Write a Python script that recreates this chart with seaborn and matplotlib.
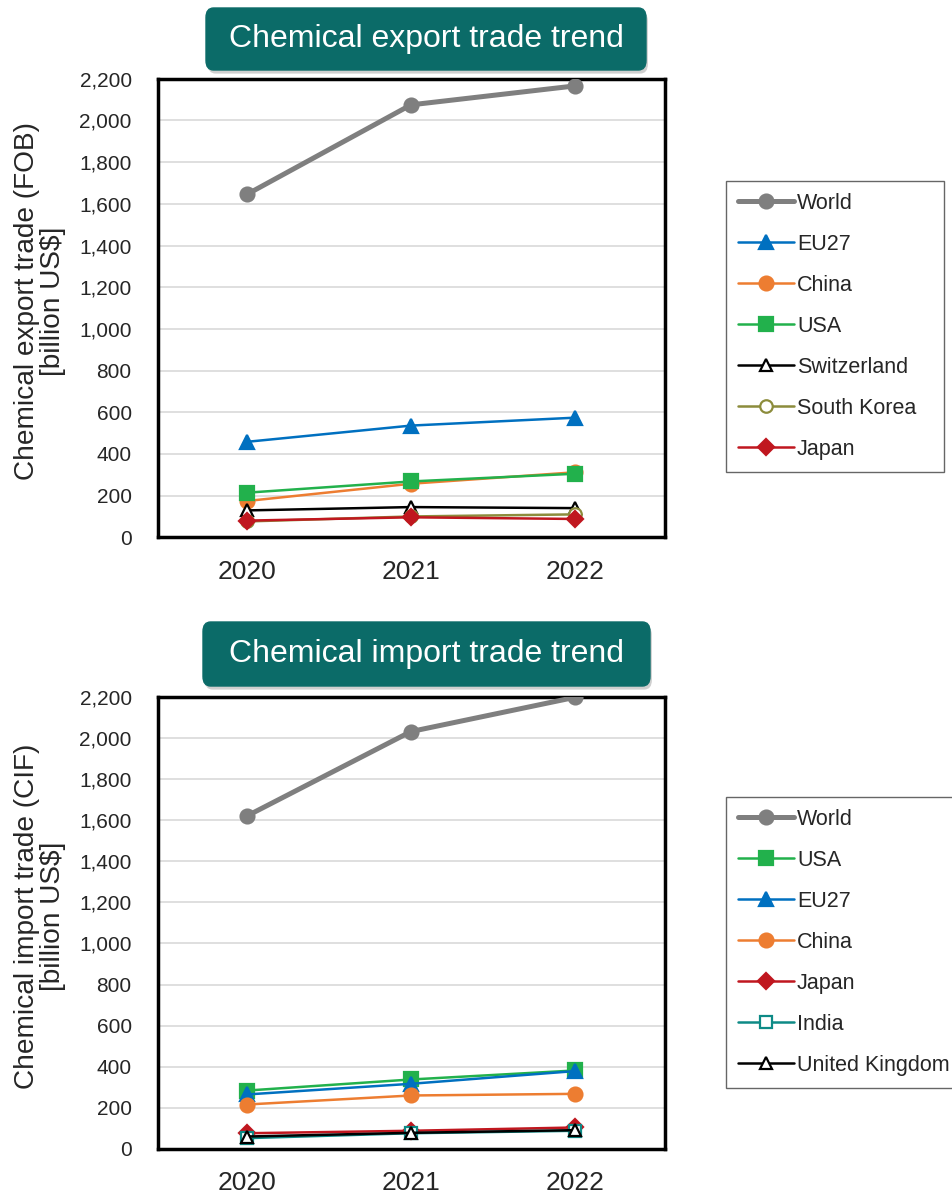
import numpy as np
import pandas as pd
import matplotlib
matplotlib.use("Agg")
import matplotlib.pyplot as plt
from matplotlib.patches import FancyBboxPatch
import seaborn as sns

years = [2020, 2021, 2022]

#Export trade (FOB), billion US$
export_names = ["World", "EU27", "China", "USA", "Switzerland", "South Korea", "Japan"]
export_world = [1645, 2075, 2166]
export_eu27 = [458, 536, 574]
export_china = [174, 257, 312]
export_usa = [214, 268, 305]
export_switzerland = [129, 145, 140]
export_south_korea = [76, 100, 110]
export_japan = [80, 96, 88]

#Import trade (CIF), billion US$
import_names = ["World", "USA", "EU27", "China", "Japan", "India", "United Kingdom"]
import_world = [1621, 2033, 2200]
import_usa = [283, 337, 381]
import_eu27 = [264, 316, 378]
import_china = [215, 259, 267]
import_japan = [75, 87, 103]
import_india = [51, 75, 87]
import_uk = [59, 77, 90]

export_values = [export_world, export_eu27, export_china, export_usa,
                 export_switzerland, export_south_korea, export_japan]
import_values = [import_world, import_usa, import_eu27, import_china,
                 import_japan, import_india, import_uk]

#Line styles per country: color, marker, marker face, line width, marker size
styles = {
    "World": ("#7F7F7F", "o", "#7F7F7F", 3.6, 10),
    "EU27": ("#0070C0", "^", "#0070C0", 1.8, 10),
    "China": ("#ED7D31", "o", "#ED7D31", 1.8, 10),
    "USA": ("#22B14C", "s", "#22B14C", 1.8, 10),
    "Switzerland": ("#000000", "^", "white", 1.8, 9),
    "South Korea": ("#8C8C3C", "o", "white", 1.8, 9),
    "Japan": ("#C0171F", "D", "#C0171F", 1.8, 8),
    "India": ("#0E8A86", "s", "white", 1.8, 9),
    "United Kingdom": ("#000000", "^", "white", 1.8, 9),
}

sns.set_style("white")
plt.rcParams["font.family"] = ["Liberation Sans", "DejaVu Sans"]

fig = plt.figure(figsize=(9.52, 11.94), dpi=100)


def draw_panel(ax, names, values, ylabel, title, title_box, legend_box):
    df = pd.DataFrame({"Year": np.tile(years, len(names)),
                       "Country": np.repeat(names, len(years)),
                       "Value": np.concatenate(values)})
    for name in names:
        color, marker, face, lw, ms = styles[name]
        sns.lineplot(data=df[df["Country"] == name], x="Year", y="Value", ax=ax,
                     color=color, marker=marker, markerfacecolor=face,
                     markeredgecolor=color, markeredgewidth=1.6,
                     linewidth=lw, markersize=ms, label=name, zorder=3)
    ax.set_xlim(2019.46, 2022.55)
    ax.set_ylim(0, 2200)
    ax.set_xticks(years)
    ax.set_xticklabels([str(y) for y in years], fontsize=19)
    ax.set_yticks(range(0, 2201, 200))
    ax.set_yticklabels([f"{v:,}" for v in range(0, 2201, 200)], fontsize=15)
    ax.tick_params(axis="x", pad=16, length=0)
    ax.tick_params(axis="y", length=0, pad=19)
    ax.yaxis.grid(True, color="#D9D9D9", linewidth=1.2)
    ax.set_axisbelow(True)
    for sp in ax.spines.values():
        sp.set_linewidth(2.5)
        sp.set_color("black")
    ax.set_xlabel("")
    ax.set_ylabel(ylabel, fontsize=20.2, linespacing=1.0)
    ax.yaxis.set_label_coords(-0.182, 0.515)
    leg = ax.legend(loc="upper left", bbox_to_anchor=legend_box, mode="expand",
                    bbox_transform=fig.transFigure, fontsize=15.5,
                    frameon=True, fancybox=False, edgecolor="#404040",
                    handlelength=2.6, handletextpad=0.15, labelspacing=0.93,
                    borderpad=0.55, borderaxespad=0)
    leg.get_frame().set_linewidth(1.0)

    #Rounded teal title box above the plot, with a soft shadow
    x0, y0, w, h = title_box
    shadow = FancyBboxPatch((x0 + 0.002, y0 - 0.003), w, h,
                            boxstyle="round,pad=0,rounding_size=0.008",
                            transform=fig.transFigure, facecolor="#B0B0B0",
                            edgecolor="none", alpha=0.6, zorder=4)
    fig.patches.append(shadow)
    box = FancyBboxPatch((x0, y0), w, h, boxstyle="round,pad=0,rounding_size=0.008",
                         transform=fig.transFigure, facecolor="#0B6B68",
                         edgecolor="#0B6B68", zorder=5)
    fig.patches.append(box)
    fig.text(x0 + w / 2, y0 + h / 2, title, color="white", fontsize=23,
             ha="center", va="center", zorder=6)


ax1 = fig.add_axes([0.166, 0.550, 0.533, 0.384])
draw_panel(ax1, export_names, export_values,
           "Chemical export trade (FOB)\n[billion US$]",
           "Chemical export trade trend",
           (206 / 952, 1 - 70 / 1194, 440 / 952, 62 / 1194),
           (726 / 952, 1 - 181 / 1194, 218 / 952, 0))

ax2 = fig.add_axes([0.166, 0.038, 0.533, 0.378])
draw_panel(ax2, import_names, import_values,
           "Chemical import trade (CIF)\n[billion US$]",
           "Chemical import trade trend",
           (203 / 952, 1 - 686 / 1194, 447 / 952, 64 / 1194),
           (726 / 952, 1 - 797 / 1194, 240 / 952, 0))

fig.savefig("out.png", dpi=100)
